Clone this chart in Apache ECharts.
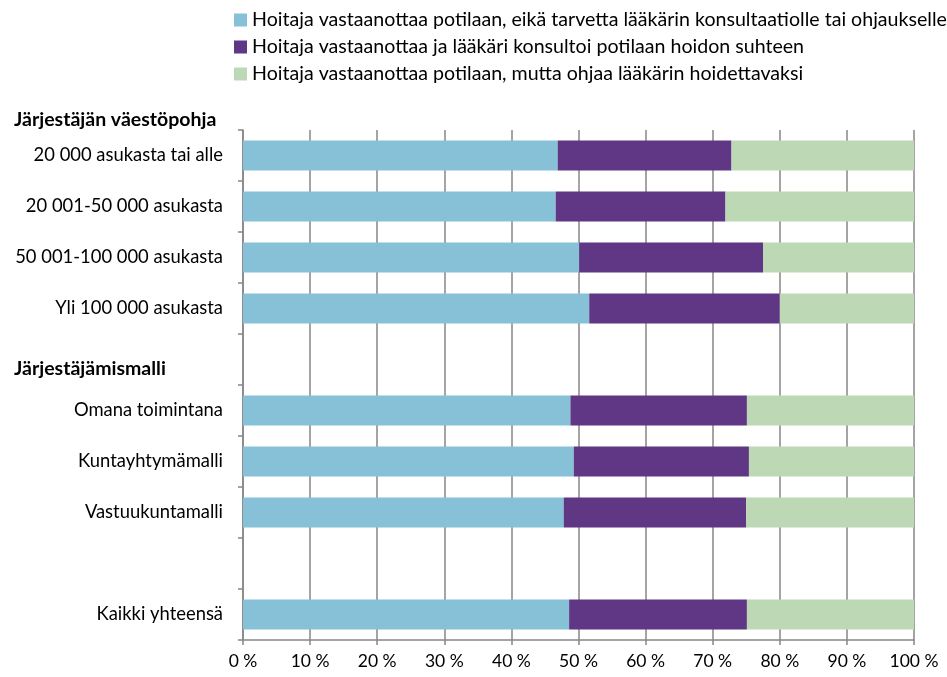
<!DOCTYPE html>
<html><head><meta charset="utf-8">
<script src="https://cdn.jsdelivr.net/npm/echarts@6/dist/echarts.min.js"></script>
<style>html,body{margin:0;padding:0;background:#fff}#c{width:947px;height:677px}</style>
</head><body><div id="c"></div>
<script>
const categories = ["20 000 asukasta tai alle","20 001-50 000 asukasta","50 001-100 000 asukasta","Yli 100 000 asukasta","","Omana toimintana","Kuntayhtymämalli","Vastuukuntamalli","","Kaikki yhteensä"];
const seriesNames = ["Hoitaja vastaanottaa potilaan, eikä tarvetta lääkärin konsultaatiolle tai ohjaukselle","Hoitaja vastaanottaa ja lääkäri konsultoi potilaan hoidon suhteen","Hoitaja vastaanottaa potilaan, mutta ohjaa lääkärin hoidettavaksi"];
const noConsult = [46.9, 46.6, 50.1, 51.6, null, 48.8, 49.3, 47.8, null, 48.6];
const consult   = [25.9, 25.3, 27.4, 28.4, null, 26.3, 26.1, 27.2, null, 26.5];
const referral  = [27.2, 28.1, 22.5, 20.0, null, 24.9, 24.6, 25.0, null, 24.9];
const groupHeaders = ["Järjestäjän väestöpohja","Järjestäjämismalli"];
const colors = ["#86C1D7","#5F3784","#BDD8B4"];
const FONT = "Lato";
const chart = echarts.init(document.getElementById('c'), null, {renderer:'canvas'});
const mk = (i, data) => ({
  name: seriesNames[i], type:'bar', stack:'t', data, barWidth: 30,
  itemStyle:{color:colors[i]}, animation:false
});
chart.setOption({
  animation:false,
  textStyle:{fontFamily:FONT},
  legend:{
    orient:'vertical', left:229, top:5, itemWidth:13, itemHeight:13, itemGap:7,
    icon:'rect',
    textStyle:{fontFamily:FONT, fontSize:19.6, color:'#000', lineHeight:20},
    data: seriesNames
  },
  grid:{left:243, right:33, top:130, bottom:37, containLabel:false},
  xAxis:{
    type:'value', min:0, max:100, interval:10,
    axisLine:{show:true, lineStyle:{color:'#868686', width:1.5}},
    axisTick:{show:true, length:5, lineStyle:{color:'#868686', width:1.5}},
    splitLine:{show:true, lineStyle:{color:'#868686', width:1.5}},
    axisLabel:{formatter:v=>v+' %', fontFamily:FONT, fontSize:17.5, color:'#000', margin:12}
  },
  yAxis:{
    type:'category', data:categories, inverse:true,
    axisLine:{show:true, lineStyle:{color:'#868686', width:1.5}},
    axisTick:{show:true, length:5, interval:0, lineStyle:{color:'#868686', width:1.5}},
    axisLabel:{fontFamily:FONT, fontSize:18.4, color:'#000', margin:20, interval:0}
  },
  graphic:[
    {type:'text', left:14, top:110, style:{text:groupHeaders[0], font:'bold 19.5px Lato', fill:'#000'}},
    {type:'text', left:14, top:359, style:{text:groupHeaders[1], font:'bold 19.5px Lato', fill:'#000'}}
  ],
  series:[mk(0,noConsult), mk(1,consult), mk(2,referral)]
});
</script></body></html>
